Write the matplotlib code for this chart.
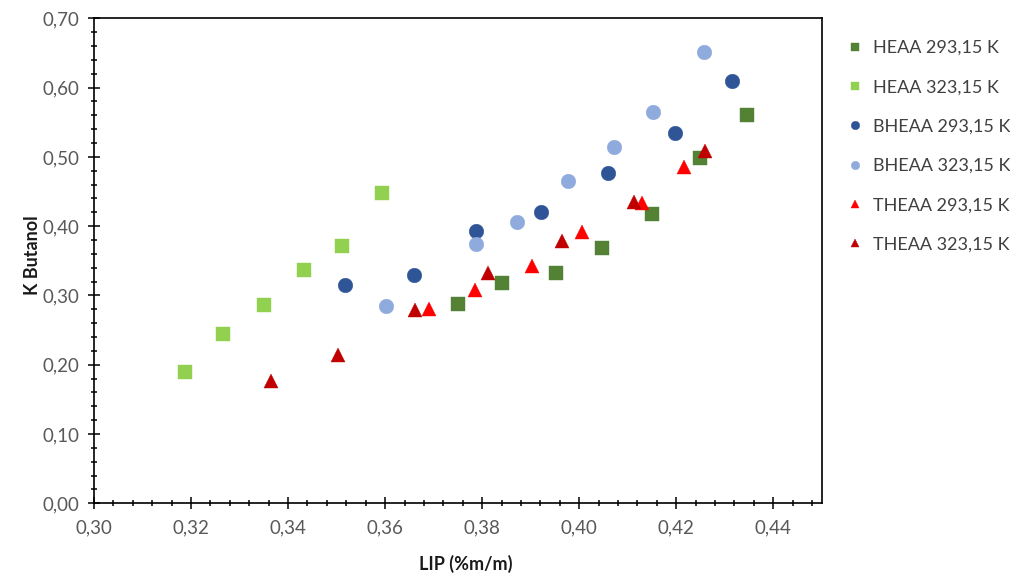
import matplotlib
matplotlib.use("Agg")
import matplotlib.pyplot as plt
from matplotlib.ticker import MultipleLocator, FuncFormatter

plt.rcParams['font.family'] = ['Lato', 'DejaVu Sans']

# Data
heaa_293_x = [0.3750, 0.3841, 0.3952, 0.4048, 0.4151, 0.4250, 0.4346]
heaa_293_y = [0.288, 0.318, 0.333, 0.369, 0.417, 0.499, 0.560]

heaa_323_x = [0.3188, 0.3265, 0.3350, 0.3433, 0.3511, 0.3593]
heaa_323_y = [0.190, 0.244, 0.286, 0.337, 0.372, 0.448]

bheaa_293_x = [0.3518, 0.3659, 0.3787, 0.3921, 0.4060, 0.4198, 0.4316]
bheaa_293_y = [0.315, 0.329, 0.393, 0.421, 0.477, 0.535, 0.610]

bheaa_323_x = [0.3602, 0.3787, 0.3872, 0.3977, 0.4071, 0.4153, 0.4257]
bheaa_323_y = [0.285, 0.374, 0.406, 0.465, 0.514, 0.565, 0.651]

theaa_293_x = [0.3690, 0.3785, 0.3902, 0.4006, 0.4129, 0.4217]
theaa_293_y = [0.280, 0.308, 0.343, 0.392, 0.434, 0.486]

theaa_323_x = [0.3364, 0.3503, 0.3662, 0.3813, 0.3965, 0.4113, 0.4259]
theaa_323_y = [0.177, 0.214, 0.279, 0.333, 0.378, 0.435, 0.509]

labels = ["HEAA 293,15 K", "HEAA 323,15 K", "BHEAA 293,15 K",
          "BHEAA 323,15 K", "THEAA 293,15 K", "THEAA 323,15 K"]
x_label = "LIP (%m/m)"
y_label = "K Butanol"

series = [
    (heaa_293_x, heaa_293_y, 's', '#548235'),
    (heaa_323_x, heaa_323_y, 's', '#92D050'),
    (bheaa_293_x, bheaa_293_y, 'o', '#2F5597'),
    (bheaa_323_x, bheaa_323_y, 'o', '#8FAADC'),
    (theaa_293_x, theaa_293_y, '^', '#FF0000'),
    (theaa_323_x, theaa_323_y, '^', '#C00000'),
]

fig = plt.figure(figsize=(10.10, 5.73), dpi=100)
ax = fig.add_axes([0.0931, 0.1216, 0.8136 - 0.0931, 0.968 - 0.1216])

for (xs, ys, m, c), lab in zip(series, labels):
    ax.plot(xs, ys, linestyle='none', marker=m, markersize=10.5,
            markerfacecolor=c, markeredgecolor=c, markeredgewidth=0.3,
            label=lab)

ax.set_xlim(0.30, 0.45)
ax.set_ylim(0.0, 0.70)
ax.xaxis.set_major_locator(MultipleLocator(0.02))
ax.xaxis.set_minor_locator(MultipleLocator(0.004))
ax.yaxis.set_major_locator(MultipleLocator(0.10))
ax.yaxis.set_minor_locator(MultipleLocator(0.02))
fmt = FuncFormatter(lambda v, p: f"{v:.2f}".replace('.', ','))
ax.xaxis.set_major_formatter(fmt)
ax.yaxis.set_major_formatter(fmt)

ax.tick_params(which='major', direction='inout', length=9, width=1.1,
               color='black', labelsize=13.5, labelcolor='#595959', pad=6)
ax.tick_params(which='minor', direction='inout', length=5, width=1.1,
               color='black')
ax.tick_params(axis='x', which='major', pad=7)
for s in ax.spines.values():
    s.set_linewidth(1.2)
    s.set_color('black')

ax.set_xlabel(x_label, fontsize=13, fontweight='bold', color='#1a1a1a')
ax.set_ylabel(y_label, fontsize=13, fontweight='bold', color='#1a1a1a')
ax.xaxis.set_label_coords(0.511, -0.107)
ax.yaxis.set_label_coords(-0.073, 0.512)

leg = ax.legend(loc='upper left', bbox_to_anchor=(1.0285, 0.970),
                frameon=False, fontsize=13, markerscale=0.58,
                handlelength=0.6, handletextpad=0.7, labelspacing=1.29,
                borderaxespad=0)
for t in leg.get_texts():
    t.set_color('#404040')

fig.savefig("out.png", dpi=100)
